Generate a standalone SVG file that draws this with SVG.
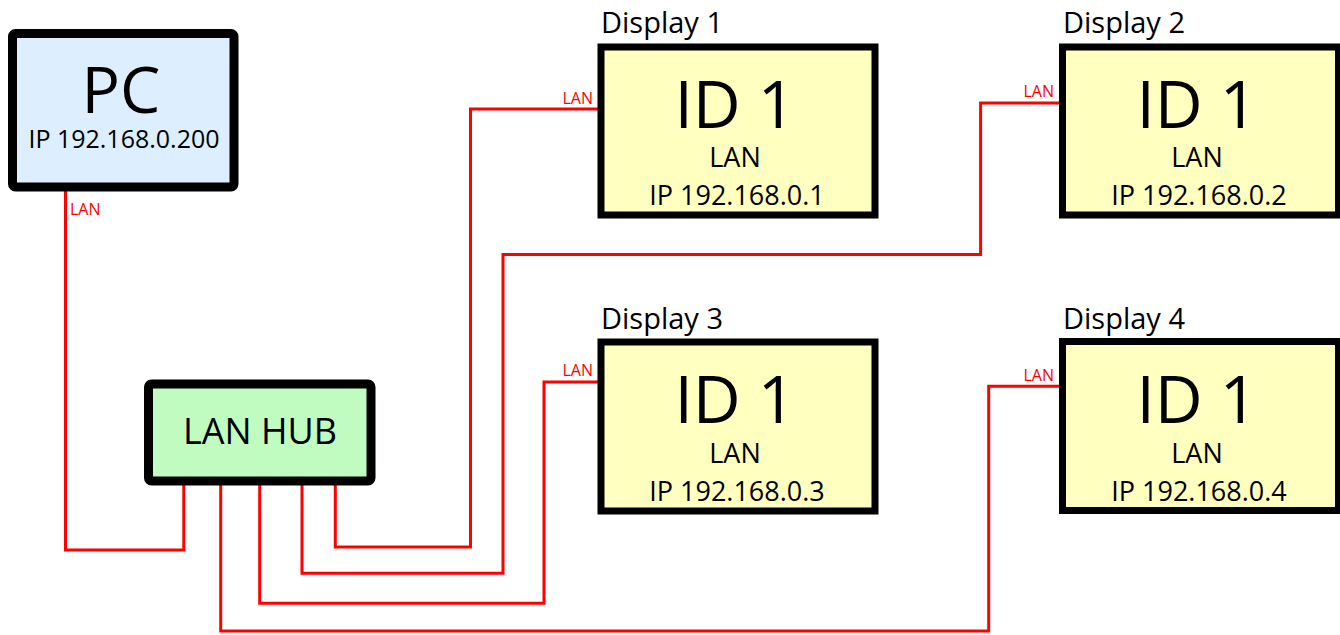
<svg xmlns="http://www.w3.org/2000/svg" width="1340" height="635" viewBox="0 0 1340 635">
<style>
text{font-family:"Open Sans","Liberation Sans",sans-serif;fill:#000}
.c{text-anchor:middle}
.box{stroke:#000;stroke-linejoin:miter}
.pc{fill:#ddeeff;stroke-width:9}
.hub{fill:#c0fcc0;stroke-width:9}
.disp{fill:#ffffc0;stroke-width:7}
.wire{fill:none;stroke:#ff0000;stroke-width:3}
.lan{fill:#ff0000;font-size:16px}
.big{font-size:66px}
.mid{font-size:27px}
.ttl{font-size:29px}
</style>
<g id="connectors">
<path class="wire" d="M65.5,190 V550 H183.8 V484"/>
<path class="wire" d="M335.3,484 V547 H470.5 V109 H598"/>
<path class="wire" d="M302,484 V573.3 H503 V254.5 H980.6 V103 H1059"/>
<path class="wire" d="M259.7,484 V603.3 H544 V382 H598"/>
<path class="wire" d="M220.7,484 V631 H988.7 V386.3 H1059"/>
<text class="lan" x="70" y="215">LAN</text>
<text class="lan" x="593" y="104" text-anchor="end">LAN</text>
<text class="lan" x="1054" y="97" text-anchor="end">LAN</text>
<text class="lan" x="593" y="376" text-anchor="end">LAN</text>
<text class="lan" x="1054" y="381" text-anchor="end">LAN</text>
</g>
<g id="pc">
<rect class="box pc" x="12.5" y="33.5" width="221.5" height="153.5" rx="3"/>
<text class="c" x="121" y="113" font-size="64">PC</text>
<text class="c" x="124" y="148" font-size="25">IP 192.168.0.200</text>
</g>
<g id="hub">
<rect class="box hub" x="148.5" y="384" width="222.5" height="97" rx="3"/>
<text class="c" x="260" y="444" font-size="36">LAN HUB</text>
</g>
<g id="display1">
<text class="ttl" x="601" y="33">Display 1</text>
<rect class="box disp" x="601" y="47" width="274" height="168"/>
<text class="c big" x="735" y="128">ID 1</text>
<text class="c mid" x="735" y="167">LAN</text>
<text class="c mid" x="737" y="205">IP 192.168.0.1</text>
</g>
<g id="display2">
<text class="ttl" x="1063" y="33">Display 2</text>
<rect class="box disp" x="1062.5" y="47" width="276" height="168"/>
<text class="c big" x="1197" y="128">ID 1</text>
<text class="c mid" x="1197" y="167">LAN</text>
<text class="c mid" x="1199" y="205">IP 192.168.0.2</text>
</g>
<g id="display3">
<text class="ttl" x="601" y="329">Display 3</text>
<rect class="box disp" x="601" y="342" width="274" height="169"/>
<text class="c big" x="735" y="423">ID 1</text>
<text class="c mid" x="735" y="463">LAN</text>
<text class="c mid" x="737" y="501">IP 192.168.0.3</text>
</g>
<g id="display4">
<text class="ttl" x="1063" y="329">Display 4</text>
<rect class="box disp" x="1062.5" y="341.5" width="276" height="169"/>
<text class="c big" x="1197" y="423">ID 1</text>
<text class="c mid" x="1197" y="463">LAN</text>
<text class="c mid" x="1199" y="501">IP 192.168.0.4</text>
</g>
</svg>
